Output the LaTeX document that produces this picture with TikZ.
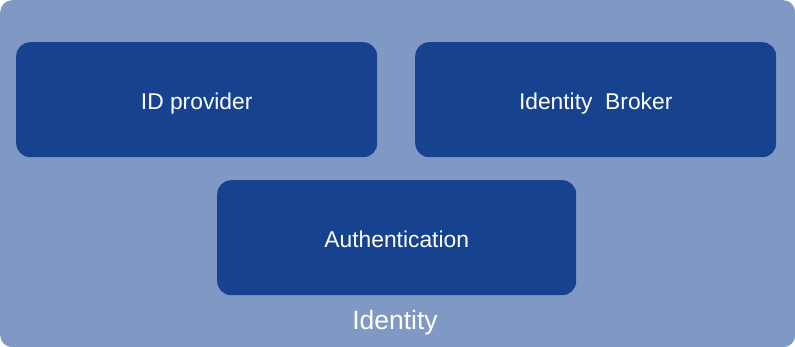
\documentclass[tikz,border=0pt]{standalone}
\usepackage{fontspec}
\setmainfont{Liberation Sans}
\definecolor{outerblue}{HTML}{7F99C4}
\definecolor{innerblue}{HTML}{17428F}
\begin{document}
\begin{tikzpicture}[x=1pt,y=-1pt,
  comp/.style={fill=innerblue,draw=none,rounded corners=14pt,text=white,font=\fontsize{22.8}{26}\selectfont,inner sep=0pt,text depth=0pt,text height=20pt,anchor=north west},
  ]
\useasboundingbox (0,0) rectangle (795,347);
\fill[white] (0,0) rectangle (795,347);
\node[fill=outerblue,rounded corners=12pt,minimum width=795pt,minimum height=347pt,inner sep=0pt,anchor=north west] (identity) at (0,0) {};
\node[comp,minimum width=361pt,minimum height=115pt] (idp) at (16,42) {ID provider};
\node[comp,minimum width=361pt,minimum height=115pt] (broker) at (415,42) {Identity\ \ Broker};
\node[comp,minimum width=359pt,minimum height=115pt] (auth) at (217,180) {Authentication};
\node[text=white,font=\fontsize{26.5}{30}\selectfont,inner sep=0pt] (label) at (395,323) {Identity};
\end{tikzpicture}
\end{document}
